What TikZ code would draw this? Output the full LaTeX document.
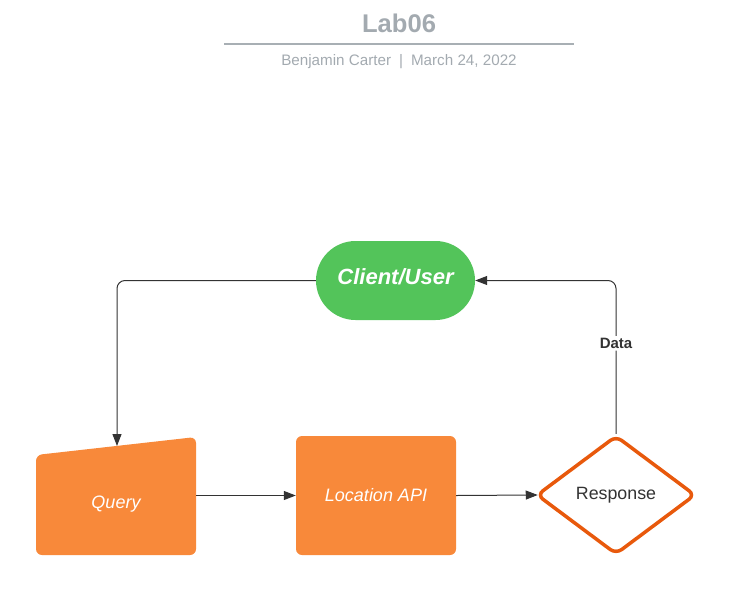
\documentclass[tikz,border=0pt]{standalone}
\usepackage{fontspec}
\setmainfont{Liberation Sans}
\usetikzlibrary{arrows.meta,shapes.geometric,shapes.misc}
\definecolor{titlegray}{HTML}{A3AAB0}
\definecolor{rulegray}{HTML}{A8AFB4}
\definecolor{orangefill}{HTML}{F8893A}
\definecolor{greenfill}{HTML}{53C45A}
\definecolor{orangeedge}{HTML}{E8590C}
\definecolor{connclr}{HTML}{333333}
\tikzset{
  conn/.style={draw=connclr, line width=1pt, -{Triangle[length=12pt,width=9pt]}},
  procbox/.style={rectangle, rounded corners=6pt, fill=orangefill, minimum width=160pt, minimum height=119pt, inner sep=0pt},
  whitetext/.style={text=white, font=\fontsize{18}{20}\selectfont\itshape},
}
\begin{document}
\begin{tikzpicture}[x=1pt,y=-1pt]
\useasboundingbox (0,0) rectangle (735,597);
% header
\node[text=titlegray, font=\fontsize{25.6}{28}\selectfont\bfseries] (title) at (399,23) {Lab06};
\coordinate (ruleL) at (224,44);
\coordinate (ruleR) at (574,44);
\draw[rulegray, line width=2pt] (ruleL) -- (ruleR);
\node[text=titlegray, font=\fontsize{15.2}{17}\selectfont] (sub) at (399,61.5) {Benjamin Carter\hspace{8pt}|\hspace{8pt}March 24, 2022};
% client
\node[rounded rectangle, fill=greenfill, minimum width=159pt, minimum height=79pt, inner sep=0pt,
      text depth=7pt, text=white, font=\fontsize{22}{24}\selectfont\bfseries\itshape] (client) at (395.5,280.5) {Client/User};
% query (manual input shape)
\node[minimum width=160pt, minimum height=118pt, inner sep=0pt] (query) at (116,496) {};
\fill[orangefill, rounded corners=6pt] (36,555) -- (36,455) -- (196,437) -- (196,555) -- cycle;
\node[whitetext] (qtext) at (116,504) {Query};
\coordinate (qtop) at (117,446);
% location api
\node[procbox, whitetext] (api) at (376,495.5) {Location API};
% response
\node[diamond, draw=orangeedge, line width=3.5pt, fill=white, rounded corners=7pt,
      minimum width=159pt, minimum height=119pt, inner sep=0pt,
      text=black!80, font=\fontsize{17.8}{20}\selectfont] (resp) at (616,495) {Response};
% connectors
\draw[conn, rounded corners=8pt] (client.west) -| (qtop);
\draw[conn] (query.east |- api.west) -- (api.west);
\draw[conn, shorten >=-3pt] (api.east) -- (resp.west);
\draw[conn, rounded corners=8pt] (resp.north) |- node[pos=0.295, fill=white, inner sep=2pt, text=connclr, font=\fontsize{15}{17}\selectfont\bfseries] (datalbl) {Data} (client.east);
\end{tikzpicture}
\end{document}
